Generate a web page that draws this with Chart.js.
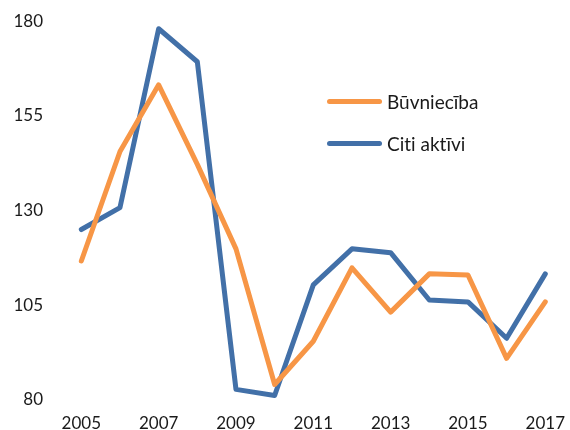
<!DOCTYPE html>
<html>
<head>
<meta charset="utf-8">
<script src="https://cdn.jsdelivr.net/npm/chart.js@4"></script>
<style>
  html, body { margin: 0; padding: 0; background: #fff; }
  #wrap { position: relative; width: 570px; height: 430px; }
  canvas { position: absolute; left: 0; top: 0; }
  .leg { position: absolute; left: 0; top: 0; font-family: Lato, "Open Sans", sans-serif; font-size: 19px; color: #1a1a1a; font-variant-ligatures: none; font-feature-settings: "liga" 0; }
  .item { position: absolute; white-space: nowrap; display: flex; align-items: center; }
  .sw { width: 55px; height: 5px; border-radius: 3px; margin-right: 5px; }
</style>
</head>
<body>
<div id="wrap">
  <canvas id="c" width="570" height="430"></canvas>
  <div class="leg">
    <div class="item" style="left:327px; top:90px;"><span class="sw" style="background:#F79646"></span><span id="l0"></span></div>
    <div class="item" style="left:327px; top:132px;"><span class="sw" style="background:#4270A8"></span><span id="l1"></span></div>
  </div>
</div>
<script>
const years = ["2005","2006","2007","2008","2009","2010","2011","2012","2013","2014","2015","2016","2017"];
const seriesNames = ["Būvniecība", "Citi aktīvi"];
const buvnieciba = [116.7, 145.6, 163.2, 142.2, 119.9, 84.1, 95.5, 114.9, 103.2, 113.3, 113.0, 91.0, 105.9];
const citiAktivi = [125.0, 130.8, 178.0, 169.3, 82.8, 81.2, 110.4, 119.9, 118.9, 106.4, 105.9, 96.3, 113.3];
const yTicks = [80, 105, 130, 155, 180];

document.getElementById('l0').textContent = seriesNames[0];
document.getElementById('l1').textContent = seriesNames[1];

const tickFont = { family: 'Lato, "Open Sans", sans-serif', size: 17 };

new Chart(document.getElementById('c'), {
  type: 'line',
  data: {
    labels: years,
    datasets: [
      { label: seriesNames[0], data: buvnieciba, borderColor: '#F79646', borderWidth: 5, pointRadius: 0, tension: 0, borderCapStyle: 'round', borderJoinStyle: 'round' },
      { label: seriesNames[1], data: citiAktivi, borderColor: '#4270A8', borderWidth: 5, pointRadius: 0, tension: 0, borderCapStyle: 'round', borderJoinStyle: 'round' }
    ]
  },
  options: {
    responsive: false,
    animation: false,
    layout: { padding: { top: 19, right: 0, left: 0, bottom: 0 } },
    plugins: { legend: { display: false }, tooltip: { enabled: false } },
    scales: {
      x: {
        offset: true,
        grid: { display: false },
        border: { display: false },
        ticks: {
          color: '#1a1a1a', font: tickFont, padding: 5, autoSkip: false, maxRotation: 0,
          callback: function(v, i) { return i % 2 === 0 ? years[i] : ''; }
        },
        afterFit: function(s) { s.height = 30; }
      },
      y: {
        min: 80, max: 180,
        grid: { display: false },
        border: { display: false },
        afterBuildTicks: function(s) { s.ticks = yTicks.map(v => ({ value: v })); },
        ticks: { color: '#1a1a1a', font: tickFont, padding: 11 },
        afterFit: function(s) { s.width = 62; }
      }
    }
  }
});
</script>
</body>
</html>
